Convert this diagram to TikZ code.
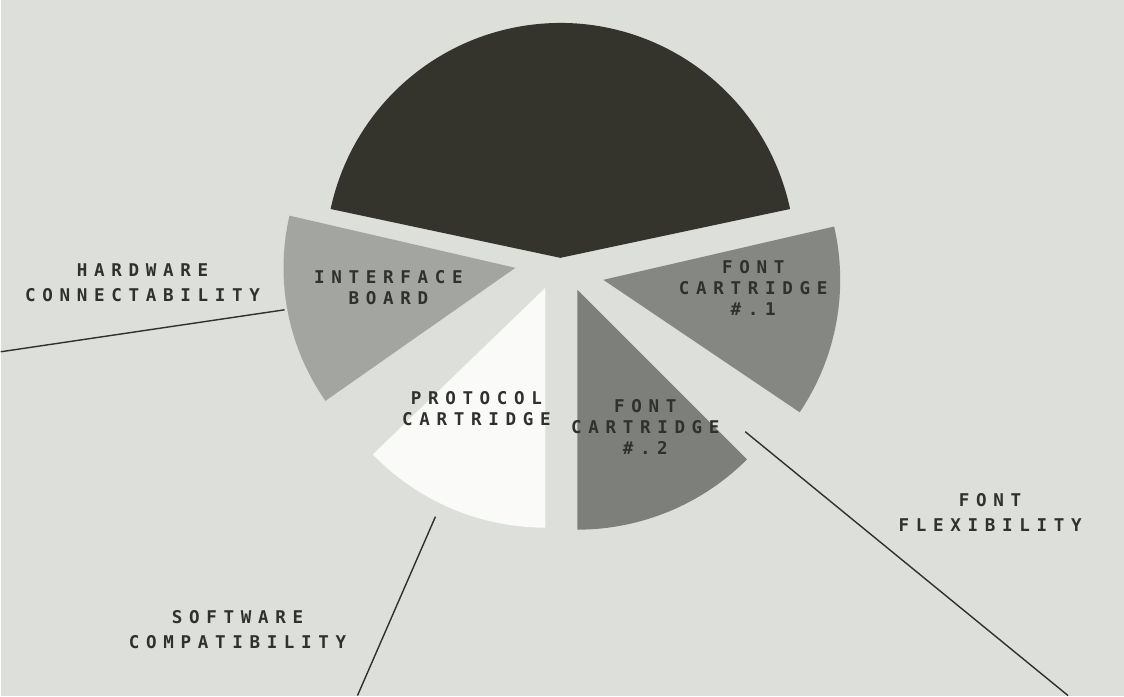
\documentclass[tikz,border=0pt]{standalone}
\usepackage{fontspec}
\usepackage{tikz}
\usetikzlibrary{positioning}
\newfontfamily\dotfont[LetterSpace=38]{DejaVu Sans Mono}
\definecolor{bgc}{RGB}{221,223,219}
\definecolor{darkc}{RGB}{52,52,44}
\definecolor{ifc}{RGB}{163,165,161}
\definecolor{fonea}{RGB}{132,135,130}
\definecolor{ftwo}{RGB}{124,127,122}
\definecolor{protoc}{RGB}{250,250,248}
\definecolor{inkc}{RGB}{48,48,46}

\begin{document}
\begin{tikzpicture}[x=0.02cm,y=0.02cm, every node/.style={font=\dotfont\bfseries\fontsize{10}{12}\selectfont,text=inkc,align=center,inner sep=0pt}]
\tikzstyle{inlbl}=[font=\dotfont\bfseries\fontsize{10}{12}\selectfont]
\tikzstyle{outlbl}=[font=\dotfont\bfseries\fontsize{10}{14.5}\selectfont]
\tikzstyle{lead}=[draw=inkc,line width=0.8pt]
\fill[bgc] (0,0) rectangle (1124,696);
% slices of the pie
\fill[darkc] (560,438) -- ++(12:235) arc[start angle=12,end angle=168,radius=235] -- cycle;
\fill[ifc] (515,428) -- ++(167:232) arc[start angle=167,end angle=215,radius=232] -- cycle;
\fill[fonea] (603,416) -- ++(-34:237) arc[start angle=-34,end angle=13,radius=237] -- cycle;
\fill[ftwo] (577,406) -- ++(-90:240) arc[start angle=-90,end angle=-45,radius=240] -- cycle;
\fill[protoc] (545,408) -- ++(224:240) arc[start angle=224,end angle=270,radius=240] -- cycle;
% labels
\node[inlbl] (iface) at (388,408) {INTERFACE\\BOARD};
\node[inlbl] (fcone) at (753,408) {FONT\\CARTRIDGE\\\#.1};
\node[inlbl] (fctwo) at (645,269) {FONT\\CARTRIDGE\\\#.2};
\node[inlbl] (proto) at (476,287) {PROTOCOL\\CARTRIDGE};
\node[outlbl] (hware) at (142,413) {HARDWARE\\CONNECTABILITY};
\node[outlbl] (fflex) at (990,183) {FONT\\FLEXIBILITY};
\node[outlbl] (swcomp) at (237,66) {SOFTWARE\\COMPATIBILITY};
% leader lines
\coordinate (hwa) at (284,386);
\coordinate (hwb) at (0,344);
\coordinate (ffa) at (745,264);
\coordinate (ffb) at (1068,0);
\coordinate (swa) at (435,179);
\coordinate (swb) at (357,0);
\draw[lead] (hwa) -- (hwb);
\draw[lead] (ffa) -- (ffb);
\draw[lead] (swa) -- (swb);
\end{tikzpicture}
\end{document}
